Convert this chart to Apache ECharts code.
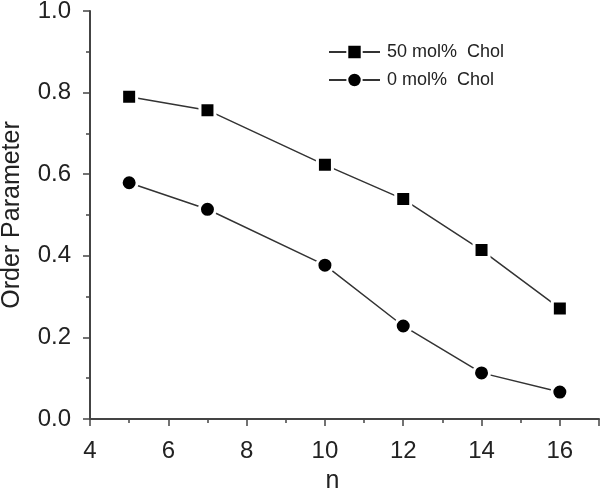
<!DOCTYPE html>
<html>
<head>
<meta charset="utf-8">
<script src="https://cdn.jsdelivr.net/npm/echarts@6/dist/echarts.min.js"></script>
<style>html,body{margin:0;padding:0;background:#fff}#c{width:601px;height:489px}</style>
</head>
<body>
<div id="c"></div>
<script>
var nValues = [5, 7, 10, 12, 14, 16];
var chol50 = [0.790, 0.757, 0.623, 0.539, 0.414, 0.271];
var chol0 = [0.579, 0.514, 0.377, 0.228, 0.113, 0.066];
var seriesNames = ['50 mol%  Chol', '0 mol%  Chol'];
var xTicks = [4, 6, 8, 10, 12, 14, 16];
var yTicks = [0.0, 0.2, 0.4, 0.6, 0.8, 1.0];

function pairs(xs, ys) { return xs.map(function (x, i) { return [x, ys[i]]; }); }

var font = 'Liberation Sans, Arial, sans-serif';
var chart = echarts.init(document.getElementById('c'), null, {renderer: 'canvas'});
var axisCommon = {
  axisLine: {show: true, onZero: false, lineStyle: {color: '#444', width: 2}},
  axisTick: {show: true, inside: false, length: 7, lineStyle: {color: '#444', width: 1.5}},
  minorTick: {show: true, splitNumber: 2, length: 4, lineStyle: {color: '#444', width: 1.5}},
  splitLine: {show: false}
};
chart.setOption({
  animation: false,
  backgroundColor: '#fff',
  grid: {left: 90, right: 2, top: 11, bottom: 70, containLabel: false, outerBoundsMode: 'none'},
  legend: {
    orient: 'vertical', left: 323, top: 38,
    itemWidth: 51, itemHeight: 18, itemGap: 10,
    textStyle: {color: '#222', fontSize: 18, fontFamily: font, lineHeight: 18, padding: [0, 0, 0, 2]},
    data: seriesNames
  },
  xAxis: Object.assign({}, axisCommon, {
    type: 'value', min: 4, max: 17, interval: 2,
    name: 'n', nameLocation: 'middle', nameGap: 50,
    nameTextStyle: {color: '#222', fontSize: 25, fontFamily: font, padding: [0, 24, 0, 0]},
    axisLabel: {color: '#222', fontSize: 24, fontFamily: font, margin: 20,
      formatter: function (v) { return xTicks.indexOf(v) >= 0 ? String(v) : ''; }}
  }),
  yAxis: Object.assign({}, axisCommon, {
    type: 'value', min: 0, max: 1, interval: 0.2,
    name: 'Order Parameter', nameLocation: 'middle', nameGap: 65,
    nameTextStyle: {color: '#222', fontSize: 25, fontFamily: font},
    axisLabel: {color: '#222', fontSize: 24, fontFamily: font, margin: 19,
      formatter: function (v) { return v.toFixed(1); }}
  }),
  series: [
    {
      name: seriesNames[0], type: 'line', data: pairs(nValues, chol50),
      symbol: 'rect', symbolSize: 15,
      lineStyle: {color: '#333', width: 1.5},
      itemStyle: {color: '#000', borderColor: '#fff', borderWidth: 3},
      z: 3
    },
    {
      name: seriesNames[1], type: 'line', data: pairs(nValues, chol0),
      symbol: 'circle', symbolSize: 16,
      lineStyle: {color: '#333', width: 1.5},
      itemStyle: {color: '#000', borderColor: '#fff', borderWidth: 3},
      z: 3
    }
  ]
});
</script>
</body>
</html>
